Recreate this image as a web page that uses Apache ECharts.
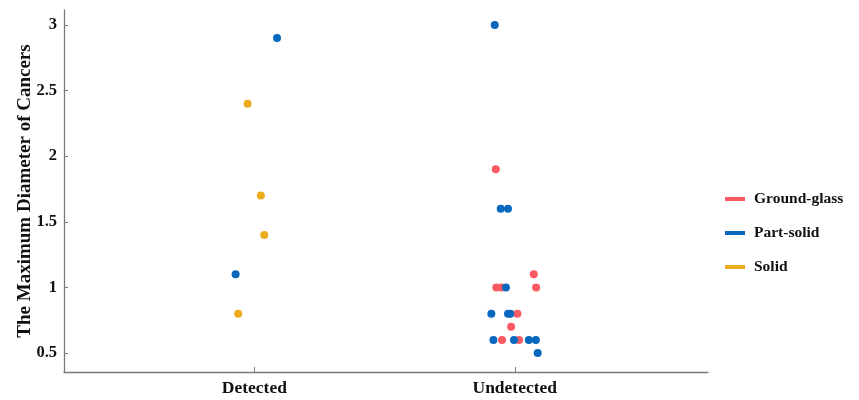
<!DOCTYPE html>
<html>
<head>
<meta charset="utf-8">
<script src="https://cdn.jsdelivr.net/npm/echarts@6/dist/echarts.min.js"></script>
<style>
  html, body { margin: 0; padding: 0; background: #fff; }
  #chart { width: 859px; height: 400px; }
</style>
</head>
<body>
<div id="chart"></div>
<script>
// groups on the x axis (1 = Detected, 2 = Undetected)
const groups = ['Detected', 'Undetected']
const yTicks = [0.5, 1, 1.5, 2, 2.5, 3]

// [x position incl. jitter, max diameter]
const groundGlass = [
  [1.927, 1.9], [2.073, 1.1], [1.929, 1.0], [1.949, 1.0], [2.082, 1.0],
  [2.010, 0.8], [1.986, 0.7], [1.951, 0.6], [2.016, 0.6]
]
const partSolid = [
  [1.087, 2.9], [0.928, 1.1],
  [1.923, 3.0], [1.946, 1.6], [1.974, 1.6], [1.966, 1.0],
  [1.910, 0.8], [1.974, 0.8], [1.983, 0.8],
  [1.918, 0.6], [1.997, 0.6], [2.054, 0.6], [2.081, 0.6], [2.088, 0.5]
]
const solid = [
  [0.974, 2.4], [1.025, 1.7], [1.038, 1.4], [0.938, 0.8]
]

const font = '"Liberation Serif", "Times New Roman", serif'
const axisColor = '#7a7a7a'

const chart = echarts.init(document.getElementById('chart'))

const mkSeries = (name, data, color) => ({
  name: name,
  type: 'scatter',
  data: data,
  symbolSize: 8,
  itemStyle: { color: color, opacity: 1 }
})

chart.setOption({
  animation: false,
  grid: { left: 64, right: 151, top: 10, bottom: 28, outerBoundsMode: 'none' },
  legend: {
    orient: 'vertical',
    left: 720,
    top: 186,
    icon: 'rect',
    itemWidth: 20,
    itemHeight: 4,
    itemGap: 18,
    textStyle: { fontFamily: font, fontWeight: 'bold', fontSize: 15.5, color: '#111', padding: [0, 0, 0, 4] },
    data: ['Ground-glass', 'Part-solid', 'Solid']
  },
  xAxis: {
    type: 'value',
    min: 0.269,
    max: 2.742,
    splitLine: { show: false },
    axisLine: { lineStyle: { color: axisColor, width: 1.3 } },
    axisTick: { inside: true, length: 5, lineStyle: { color: axisColor }, customValues: [1, 2] },
    axisLabel: {
      customValues: [1, 2],
      formatter: v => groups[Math.round(v) - 1],
      margin: 7,
      fontFamily: font, fontWeight: 'bold', fontSize: 17.5, color: '#111'
    }
  },
  yAxis: {
    type: 'value',
    min: 0.356,
    max: 3.114,
    name: 'The Maximum Diameter of Cancers',
    nameLocation: 'middle',
    nameGap: 29,
    nameMoveOverlap: false,
    nameTextStyle: { fontFamily: font, fontWeight: 'bold', fontSize: 19, color: '#111' },
    splitLine: { show: false },
    axisLine: { show: true, lineStyle: { color: axisColor, width: 1.3 } },
    axisTick: { show: true, inside: true, length: 4, lineStyle: { color: axisColor }, customValues: yTicks },
    axisLabel: {
      customValues: yTicks,
      margin: 7,
      fontFamily: font, fontWeight: 'bold', fontSize: 16.5, color: '#111'
    }
  },
  series: [
    mkSeries('Ground-glass', groundGlass, '#fb5a63'),
    mkSeries('Part-solid', partSolid, '#0868bd'),
    mkSeries('Solid', solid, '#ebab1d')
  ]
})

window.addEventListener('resize', () => {
  chart && chart.resize()
})
</script>
</body>
</html>
